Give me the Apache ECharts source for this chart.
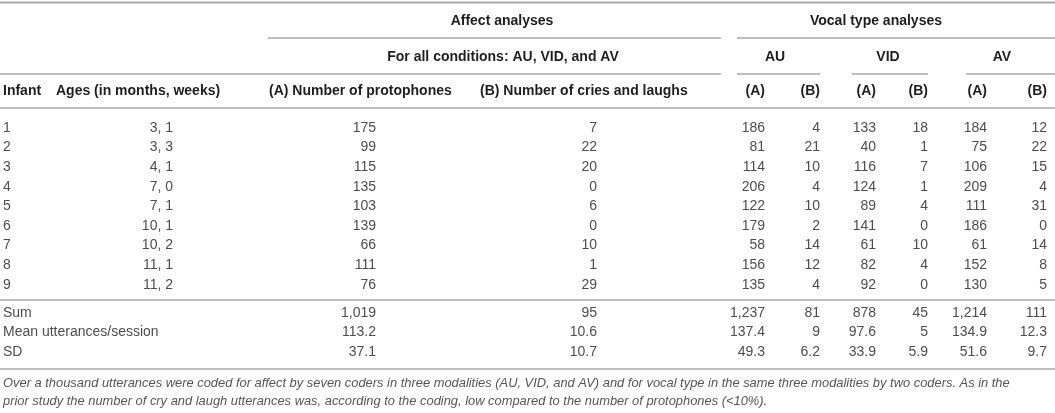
<!DOCTYPE html>
<html>
<head>
<meta charset="utf-8">
<script src="https://cdn.jsdelivr.net/npm/echarts@6/dist/echarts.min.js"></script>
<style>
  html, body { margin: 0; padding: 0; background: #fff; }
  #table { width: 1055px; height: 413px; }
</style>
</head>
<body>
<div id="table"></div>
<script>
// table data
const infants = ['1', '2', '3', '4', '5', '6', '7', '8', '9'];
const ages = ['3, 1', '3, 3', '4, 1', '7, 0', '7, 1', '10, 1', '10, 2', '11, 1', '11, 2'];
const protophones = [175, 99, 115, 135, 103, 139, 66, 111, 76];
const criesLaughs = [7, 22, 20, 0, 6, 0, 10, 1, 29];
const auA = [186, 81, 114, 206, 122, 179, 58, 156, 135];
const auB = [4, 21, 10, 4, 10, 2, 14, 12, 4];
const vidA = [133, 40, 116, 124, 89, 141, 61, 82, 92];
const vidB = [18, 1, 7, 1, 4, 0, 10, 4, 0];
const avA = [184, 75, 106, 209, 111, 186, 61, 152, 130];
const avB = [12, 22, 15, 4, 31, 0, 14, 8, 5];

// summary rows
const statLabels = ['Sum', 'Mean utterances/session', 'SD'];
const protophonesStats = ['1,019', '113.2', '37.1'];
const criesStats = ['95', '10.6', '10.7'];
const auAStats = ['1,237', '137.4', '49.3'];
const auBStats = ['81', '9', '6.2'];
const vidAStats = ['878', '97.6', '33.9'];
const vidBStats = ['45', '5', '5.9'];
const avAStats = ['1,214', '134.9', '51.6'];
const avBStats = ['111', '12.3', '9.7'];

const groupTitles = ['Affect analyses', 'Vocal type analyses'];
const subTitles = ['For all conditions: AU, VID, and AV', 'AU', 'VID', 'AV'];
const colHeaders = ['Infant', 'Ages (in months, weeks)', '(A) Number of protophones',
  '(B) Number of cries and laughs', '(A)', '(B)', '(A)', '(B)', '(A)', '(B)'];
const note = [
  'Over a thousand utterances were coded for affect by seven coders in three modalities (AU, VID, and AV) and for vocal type in the same three modalities by two coders. As in the',
  'prior study the number of cry and laugh utterances was, according to the coding, low compared to the number of protophones (<10%).'
];

// layout
const FONT = '"Liberation Sans", Arial, Helvetica, sans-serif';
const BODY = '#4d4d4d';
const HEAD = '#1e1e1e';
const RULE = '#a9a9a9';
const W = 1055;

// per column: x anchor and alignment for header / body
const cols = [
  { hx: 3,    ha: 'left',  bx: 3,    ba: 'left'  },
  { hx: 56,   ha: 'left',  bx: 173,  ba: 'right' },
  { hx: 269,  ha: 'left',  bx: 376,  ba: 'right' },
  { hx: 480,  ha: 'left',  bx: 597,  ba: 'right' },
  { hx: 765,  ha: 'right', bx: 765,  ba: 'right' },
  { hx: 820,  ha: 'right', bx: 820,  ba: 'right' },
  { hx: 876,  ha: 'right', bx: 876,  ba: 'right' },
  { hx: 928,  ha: 'right', bx: 928,  ba: 'right' },
  { hx: 987,  ha: 'right', bx: 987,  ba: 'right' },
  { hx: 1047, ha: 'right', bx: 1047, ba: 'right' }
];
const bodyCols = [infants, ages, protophones, criesLaughs, auA, auB, vidA, vidB, avA, avB];
const statCols = [statLabels, null, protophonesStats, criesStats, auAStats, auBStats, vidAStats, vidBStats, avAStats, avBStats];

const ROW0 = 128, ROWSTEP = 19.6;
const STAT0 = 313, STATSTEP = 19.5;

function txt(s, x, y, align, opts) {
  opts = opts || {};
  return {
    type: 'text',
    silent: true,
    style: {
      text: String(s),
      x: x, y: y,
      textAlign: align, align: align,
      textVerticalAlign: 'middle', verticalAlign: 'middle',
      fontFamily: FONT,
      fontSize: opts.size || 14,
      fontWeight: opts.bold ? 'bold' : 'normal',
      fontStyle: opts.italic ? 'italic' : 'normal',
      fill: opts.color || BODY
    }
  };
}
function rule(x1, x2, y, w) {
  return {
    type: 'line', silent: true,
    shape: { x1: x1, y1: y, x2: x2, y2: y },
    style: { stroke: RULE, lineWidth: w || 1.5 }
  };
}

const els = [];

// rules
els.push(rule(0, W, 2.5, 2));
els.push(rule(268, 721, 38));
els.push(rule(737, W, 38));
els.push(rule(0, 721, 74));
els.push(rule(737, 820, 74));
els.push(rule(852, 928, 74));
els.push(rule(966, W, 74));
els.push(rule(0, W, 108));
els.push(rule(0, W, 300));
els.push(rule(0, W, 369));

// group and sub headers
els.push(txt(groupTitles[0], 502, 21, 'center', { bold: true, color: HEAD }));
els.push(txt(groupTitles[1], 876, 21, 'center', { bold: true, color: HEAD }));
const subX = [503, 775, 888, 1002];
subTitles.forEach(function (s, i) {
  els.push(txt(s, subX[i], 57, 'center', { bold: true, color: HEAD }));
});

// column headers
colHeaders.forEach(function (h, i) {
  els.push(txt(h, cols[i].hx, 91, cols[i].ha, { bold: true, color: HEAD }));
});

// body rows
bodyCols.forEach(function (arr, c) {
  arr.forEach(function (v, r) {
    els.push(txt(v, cols[c].bx, ROW0 + r * ROWSTEP, cols[c].ba));
  });
});

// summary rows
statCols.forEach(function (arr, c) {
  if (!arr) return;
  arr.forEach(function (v, r) {
    els.push(txt(v, cols[c].bx, STAT0 + r * STATSTEP, cols[c].ba));
  });
});

// footnote
note.forEach(function (s, i) {
  els.push(txt(s, 3, 383 + i * 18, 'left', { italic: true, size: 12.9, color: '#555' }));
});

const chart = echarts.init(document.getElementById('table'), null, { renderer: 'canvas' });
chart.setOption({
  backgroundColor: '#fff',
  animation: false,
  graphic: { elements: els }
});
</script>
</body>
</html>
